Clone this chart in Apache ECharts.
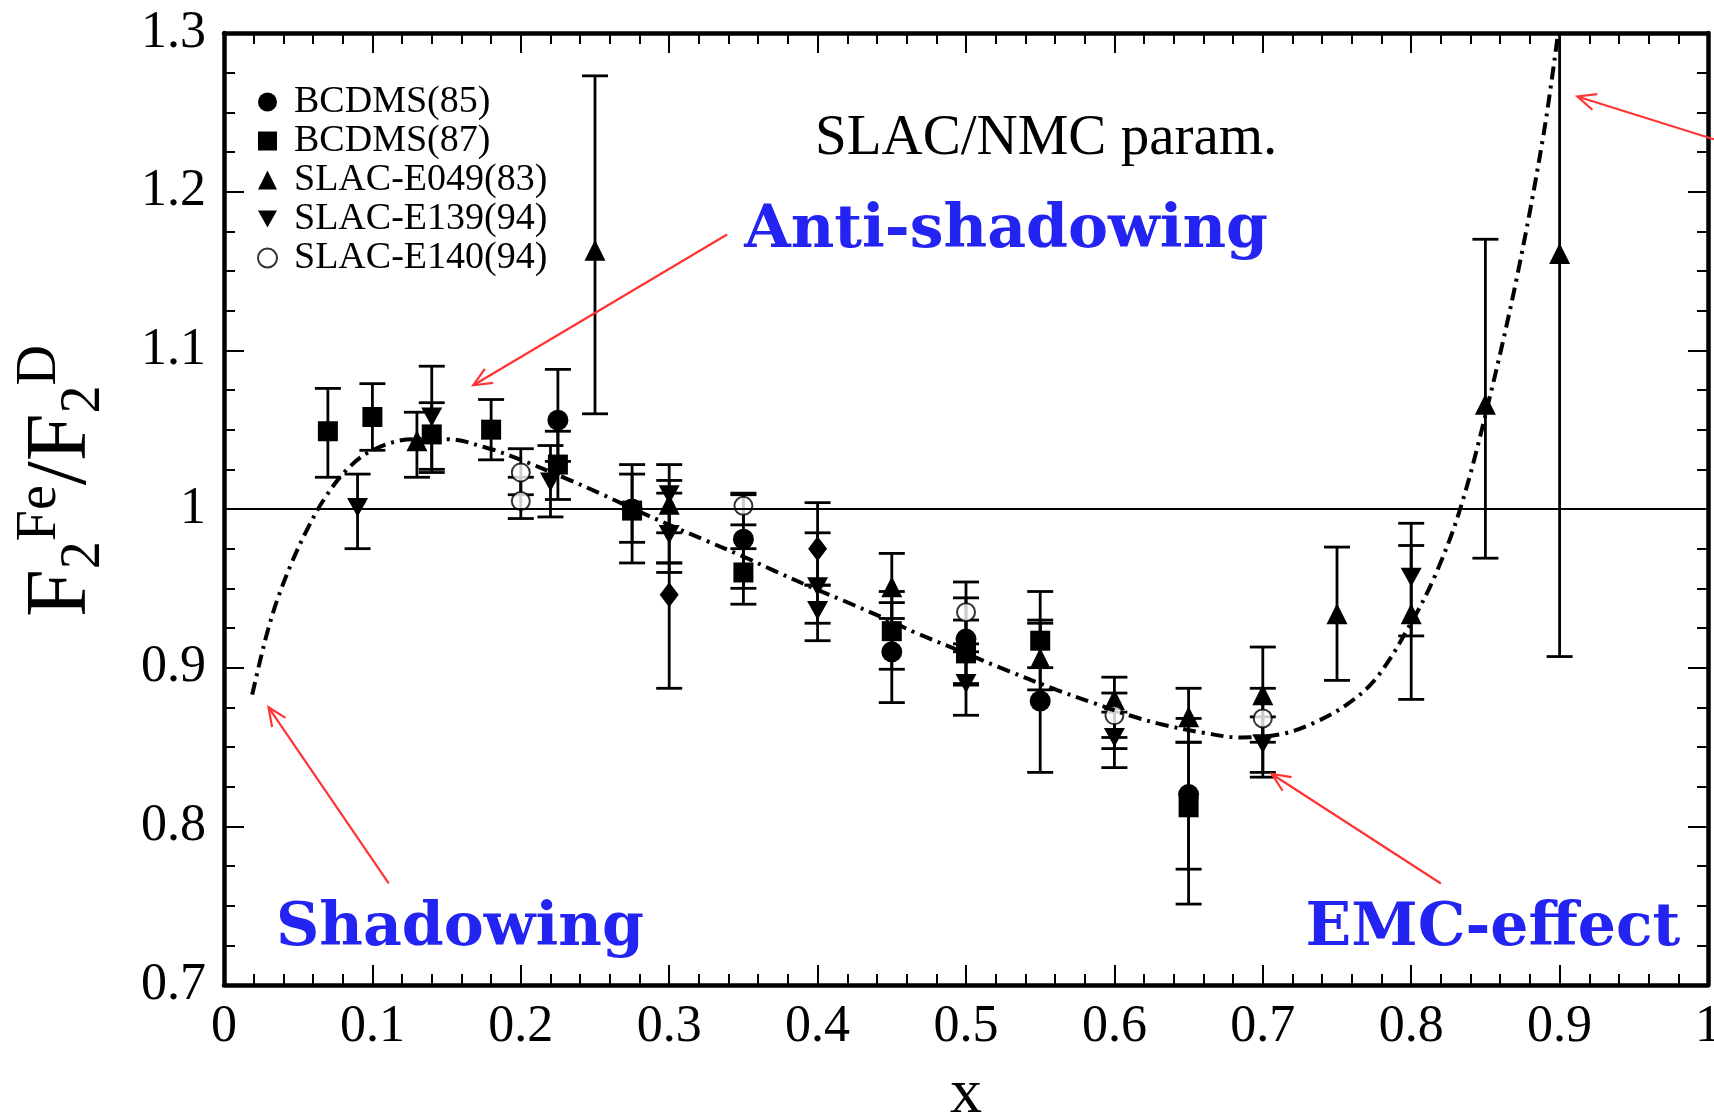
<!DOCTYPE html>
<html><head><meta charset="utf-8">
<script src="https://cdn.jsdelivr.net/npm/echarts@6/dist/echarts.min.js"></script>
<style>html,body{margin:0;padding:0;background:#fff}#c{width:1714px;height:1117px}</style>
</head><body><div id="c"></div>
<script>
// ---- data: [x, ratio, errLow, errHigh] ----
const bcdms85 = [
  [0.225, 1.056, 1.030, 1.088], [0.275, 1.000, 0.966, 1.028], [0.35, 0.981, 0.950, 1.009],
  [0.45, 0.910, 0.878, 0.941], [0.50, 0.918, 0.889, 0.944], [0.55, 0.879, 0.834, 0.928],
  [0.65, 0.820, 0.773, 0.868]
];
const bcdms87 = [
  [0.07, 1.049, 1.020, 1.076], [0.10, 1.058, 1.037, 1.079], [0.14, 1.047, 1.023, 1.067],
  [0.18, 1.050, 1.031, 1.069], [0.225, 1.028, 1.006, 1.049], [0.275, 0.999, 0.979, 1.022],
  [0.35, 0.960, 0.940, 0.975], [0.45, 0.923, 0.899, 0.948], [0.50, 0.909, 0.890, 0.930],
  [0.55, 0.917, 0.900, 0.930], [0.65, 0.812, 0.751, 0.853]
];
const slacE049 = [
  [0.13, 1.043, 1.020, 1.061], [0.25, 1.163, 1.060, 1.273], [0.30, 1.003, 0.966, 1.018],
  [0.45, 0.951, 0.931, 0.972], [0.55, 0.906, 0.886, 0.948], [0.60, 0.880, 0.856, 0.894],
  [0.65, 0.869, 0.853, 0.887], [0.70, 0.883, 0.853, 0.913], [0.75, 0.934, 0.892, 0.976],
  [0.80, 0.934, 0.880, 0.977], [0.85, 1.066, 0.969, 1.170], [0.90, 1.161, 0.907, 1.360]
];
const slacE139 = [
  [0.09, 1.001, 0.975, 1.022], [0.14, 1.058, 1.025, 1.090], [0.22, 1.017, 0.995, 1.040],
  [0.30, 1.009, 0.985, 1.028], [0.30, 0.984, 0.960, 1.010], [0.40, 0.951, 0.928, 0.985],
  [0.40, 0.936, 0.917, 0.952], [0.50, 0.890, 0.870, 0.910], [0.60, 0.856, 0.837, 0.872],
  [0.70, 0.852, 0.834, 0.869], [0.80, 0.957, 0.920, 0.991]
];
const slacE140 = [
  [0.20, 1.005, 0.994, 1.020], [0.20, 1.023, 1.009, 1.038], [0.35, 1.002, 0.990, 1.010],
  [0.50, 0.935, 0.915, 0.954], [0.60, 0.870, 0.849, 0.884], [0.70, 0.868, 0.831, 0.887]
];
const otherData = [
  [0.30, 0.946, 0.887, 0.966], [0.40, 0.975, 0.952, 1.004]
];
// SLAC/NMC parametrisation curve
const curveX = [0.019,0.025,0.030,0.036,0.046,0.056,0.068,0.083,0.100,0.127,0.150,0.179,0.200,0.231,0.253,0.276,0.300,0.325,0.350,0.371,0.400,0.418,0.450,0.466,0.500,0.523,0.561,0.585,0.610,0.633,0.660,0.685,0.712,0.734,0.757,0.777,0.801,0.817,0.833,0.851,0.871,0.889,0.899];
const curveY = [0.883,0.907,0.925,0.943,0.967,0.987,1.007,1.025,1.037,1.044,1.044,1.038,1.031,1.019,1.010,1.000,0.990,0.980,0.970,0.961,0.949,0.942,0.929,0.922,0.909,0.900,0.886,0.878,0.870,0.864,0.859,0.856,0.858,0.865,0.877,0.894,0.930,0.960,1.000,1.063,1.145,1.235,1.300];
const xTickLabels = ['0','0.1','0.2','0.3','0.4','0.5','0.6','0.7','0.8','0.9','1'];
const yTickLabels = ['0.7','0.8','0.9','1','1.1','1.2','1.3'];
const legendNames = ['BCDMS(85)','BCDMS(87)','SLAC-E049(83)','SLAC-E139(94)','SLAC-E140(94)'];

// annotations in data coordinates
const annoArrows = [
  {from:[0.339,1.173], to:[0.168,1.078]},
  {from:[0.111,0.764], to:[0.030,0.875]},
  {from:[0.820,0.764], to:[0.706,0.833]},
  {from:[1.004,1.233], to:[0.912,1.260]}
];
const annoTexts = [
  {text:'Anti-shadowing', at:[0.527,1.175]},
  {text:'Shadowing', at:[0.159,0.735]},
  {text:'EMC-effect', at:[0.855,0.735]}
];

const chart = echarts.init(document.getElementById('c'), null, {renderer:'canvas'});
const SERIF = '"Liberation Serif", "Times New Roman", serif';
const DOWN_TRI = 'path://M0,0 L20,0 L10,18 Z';

function errRender(params, api) {
  const x = api.value(0), lo = api.value(2), hi = api.value(3);
  const p1 = api.coord([x, hi]), p2 = api.coord([x, lo]);
  const w = 13;
  const st = {stroke:'#000', lineWidth:2.8};
  return {type:'group', children:[
    {type:'line', shape:{x1:p1[0], y1:p1[1], x2:p2[0], y2:p2[1]}, style:st},
    {type:'line', shape:{x1:p1[0]-w, y1:p1[1], x2:p1[0]+w, y2:p1[1]}, style:st},
    {type:'line', shape:{x1:p2[0]-w, y1:p2[1], x2:p2[0]+w, y2:p2[1]}, style:st}
  ]};
}
function errSeries(name, data) {
  return {type:'custom', name:name+'_err', data:data, renderItem:errRender, clip:true,
    encode:{x:0, y:1}, z:2, silent:true};
}
function markSeries(name, data, symbol, size, extra) {
  return Object.assign({type:'scatter', name:name, data:data.map(d=>[d[0], d[1]]),
    symbol:symbol, symbolSize:size, z:3, itemStyle:{color:'#000', opacity:1}}, extra||{});
}

const axisCommon = (split) => ({
  type:'value',
  axisLine:{show:true, onZero:false, lineStyle:{color:'#000', width:4.5}},
  axisTick:{show:true, inside:true, length:20, lineStyle:{color:'#000', width:2}},
  minorTick:{show:true, splitNumber:split, length:11, lineStyle:{color:'#000', width:2}},
  splitLine:{show:false}, minorSplitLine:{show:false}
});

const option = {
  backgroundColor:'#fff',
  animation:false,
  grid:{left:224, right:6, top:33, bottom:132, containLabel:false, outerBoundsMode:'none'},
  xAxis:[
    Object.assign(axisCommon(5), {position:'bottom', min:0, max:1, interval:0.1,
      axisLabel:{fontSize:52, fontFamily:SERIF, color:'#000', margin:16,
        formatter:(v)=>xTickLabels[Math.round(v*10)]},
      name:'x', nameLocation:'middle', nameGap:78,
      nameTextStyle:{fontSize:64, fontFamily:SERIF, color:'#000'}}),
    Object.assign(axisCommon(5), {position:'top', min:0, max:1, interval:0.1,
      axisLabel:{show:false}})
  ],
  yAxis:[
    Object.assign(axisCommon(4), {position:'left', min:0.7, max:1.3, interval:0.1,
      axisLabel:{fontSize:52, fontFamily:SERIF, color:'#000', margin:18,
        formatter:(v)=>yTickLabels[Math.round((v-0.7)*10)]},
      name:'{m|F}{s|2}{p|Fe}{m|/F}{s|2}{p|D}', nameLocation:'middle', nameRotate:90, nameGap:112,
      nameMoveOverlap:false,
      nameTextStyle:{color:'#000', fontFamily:SERIF, padding:[0,0,0,56],
        rich:{
          m:{fontSize:86, fontFamily:SERIF, color:'#000', lineHeight:100, verticalAlign:'middle'},
          s:{fontSize:56, fontFamily:SERIF, color:'#000', lineHeight:50, verticalAlign:'bottom'},
          p:{fontSize:56, fontFamily:SERIF, color:'#000', lineHeight:50, verticalAlign:'top'}
        }}}),
    Object.assign(axisCommon(4), {position:'right', min:0.7, max:1.3, interval:0.1,
      axisLabel:{show:false}})
  ],
  legend:{
    data:legendNames.map(n=>({name:n})),
    orient:'vertical', left:252, top:78, itemWidth:19, itemHeight:19, itemGap:1,
    textStyle:{fontSize:38, fontFamily:SERIF, color:'#000', padding:[0,0,0,12]},
    selectedMode:false
  },
  series:[
    {type:'line', name:'SLAC/NMC', data:curveX.map((x,i)=>[x, curveY[i]]), showSymbol:false,
      smooth:0.35, z:4, silent:true, clip:true,
      lineStyle:{color:'#000', width:4, type:[13,6,3,6]},
      markLine:{silent:true, symbol:['none','none'], label:{show:false},
        lineStyle:{color:'#000', width:2.2, type:'solid'}, data:[{yAxis:1}]}},
    errSeries('b85', bcdms85), errSeries('b87', bcdms87), errSeries('e049', slacE049),
    errSeries('e139', slacE139), errSeries('e140', slacE140), errSeries('oth', otherData),
    markSeries('BCDMS(85)', bcdms85, 'circle', 21),
    markSeries('BCDMS(87)', bcdms87, 'rect', 20),
    markSeries('SLAC-E049(83)', slacE049, 'triangle', 21),
    markSeries('SLAC-E139(94)', slacE139, DOWN_TRI, [21,19]),
    markSeries('SLAC-E140(94)', slacE140, 'emptyCircle', 18, {itemStyle:{color:'#000', borderColor:'#000', borderWidth:3}}),
    markSeries('other', otherData, 'diamond', [19,25])
  ]
};
chart.setOption(option);

// annotations converted through the chart's own scales
function px(p){ return chart.convertToPixel({xAxisIndex:0, yAxisIndex:0}, p); }
const gfx = [];
const RED = '#ff3333';
annoArrows.forEach(a => {
  const f = px(a.from), t = px(a.to);
  const ang = Math.atan2(f[1]-t[1], f[0]-t[0]);
  const L = 20, da = 0.42;
  const h1 = [t[0] + L*Math.cos(ang+da), t[1] + L*Math.sin(ang+da)];
  const h2 = [t[0] + L*Math.cos(ang-da), t[1] + L*Math.sin(ang-da)];
  gfx.push({type:'polyline', shape:{points:[f, t]}, style:{stroke:RED, lineWidth:2.2}, z:10, silent:true});
  gfx.push({type:'polyline', shape:{points:[h1, t, h2]}, style:{stroke:RED, lineWidth:2.2, fill:null}, z:10, silent:true});
});
annoTexts.forEach(a => {
  const p = px(a.at);
  gfx.push({type:'text', x:p[0], y:p[1], z:10, silent:true,
    style:{text:a.text, fill:'#2323f2', font:'bold 60px "DejaVu Serif", serif', align:'center', verticalAlign:'middle'}});
});
const tp = px([0.554, 1.233]);
gfx.push({type:'text', x:tp[0], y:tp[1], z:10, silent:true,
  style:{text:'SLAC/NMC param.', fill:'#000', font:'57px ' + SERIF, align:'center', verticalAlign:'middle'}});
chart.setOption({graphic:gfx});
</script>
</body></html>
